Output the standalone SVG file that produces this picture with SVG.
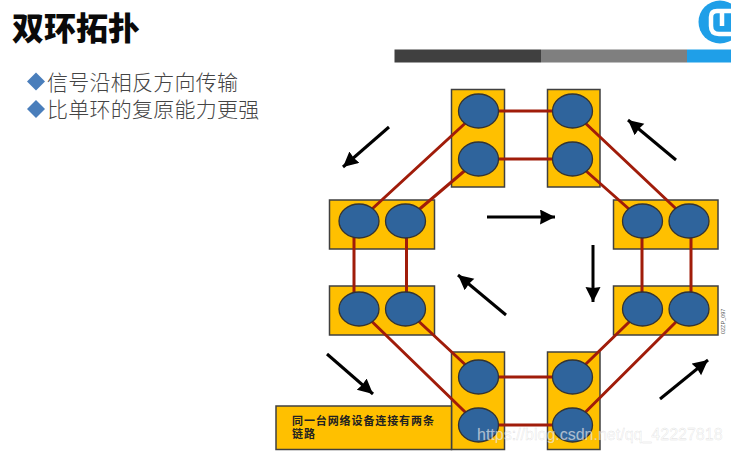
<svg xmlns="http://www.w3.org/2000/svg" width="731" height="454" viewBox="0 0 731 454">
<style>
.box{fill:#ffc000;stroke:#404040;stroke-width:1.5}
.c{fill:#2f649c;stroke:#333;stroke-width:1.3}
.l{stroke:#a01c0a;stroke-width:3;fill:none}
.a{stroke:#000;stroke-width:3;fill:none;marker-end:url(#ah)}
.cjk{font-family:"Noto Sans CJK SC","Liberation Sans",sans-serif}
.body{font-family:"Noto Sans CJK SC","Liberation Sans",sans-serif;font-size:21px;font-weight:300;fill:#444;letter-spacing:.25px}
.d{fill:#4a7ebb}
</style>
<defs>
<marker id="ah" markerUnits="userSpaceOnUse" markerWidth="18" markerHeight="16" refX="15" refY="7.500" orient="auto"><path d="M0 0L15 7.500L0 15L1 7.500Z" fill="#000"/></marker>
</defs>
<rect width="731" height="454" fill="#fff"/>
<text x="12" y="40" class="cjk" font-size="32" font-weight="900" fill="#0a0a0a">双环拓扑</text>
<g id="bullets">
<path class="d" d="M36 72.500L45 81.500L36 90.500L27 81.500Z"/>
<text x="47" y="89.500" class="body">信号沿相反方向传输</text>
<path class="d" d="M36 100L45 109L36 118L27 109Z"/>
<text x="47" y="117" class="body">比单环的复原能力更强</text>
</g>
<g id="header-bar">
<rect x="394.500" y="49.500" width="146.500" height="13" fill="#404040"/>
<rect x="541" y="49.500" width="146" height="13" fill="#7f7f7f"/>
<rect x="687" y="49.500" width="44" height="13" fill="#1f9fe8"/>
</g>
<g id="logo">
<circle cx="720" cy="22" r="21.500" fill="#1f9fe8"/>
<path d="M731 34H719Q711 34 711 26V17Q711 11 717 11H731M722 11V26" fill="none" stroke="#fff" stroke-width="4.500"/>
</g>
<g id="device-tl"><rect class="box" x="451.500" y="89.500" width="53" height="97.500"/></g>
<g id="device-tr"><rect class="box" x="547.500" y="89.500" width="52.500" height="97.500"/></g>
<g id="device-lt"><rect class="box" x="329.500" y="200" width="105" height="49"/></g>
<g id="device-lb"><rect class="box" x="329.500" y="286" width="105" height="49"/></g>
<g id="device-rt"><rect class="box" x="613.500" y="200" width="104.500" height="49"/></g>
<g id="device-rb"><rect class="box" x="613.500" y="286" width="104.500" height="49"/></g>
<g id="device-bl"><rect class="box" x="451.500" y="352" width="53" height="97.500"/></g>
<g id="device-br"><rect class="box" x="547.500" y="352" width="52.500" height="97.500"/></g>
<g id="note">
<rect class="box" x="276" y="406" width="175.500" height="43.500"/>
<text class="cjk" font-size="11" font-weight="700" fill="#222" letter-spacing=".9"><tspan x="292" y="425">同一台网络设备连接有两条</tspan><tspan x="292" y="437.500">链路</tspan></text>
</g>
<g id="connectors">
<path class="l" d="M478.500 111H572.500M478.500 159H572.500M478.500 377H572.500M478.500 425H572.500"/>
<path class="l" d="M354 221V309M406.500 221V309M642 221V309M691 221V309"/>
<path class="l" d="M478.500 111L359 221M478.500 159L405.500 221M572.500 111L689 221M572.500 159L642.500 221"/>
<path class="l" d="M478.500 377L405.500 309M478.500 425L359 309M572.500 377L642.500 309M572.500 425L689 309"/>
<path class="a" d="M389 127L343 167"/>
<path class="a" d="M676 160L628 120"/>
<path class="a" d="M487 217H555"/>
<path class="a" d="M593 245V302"/>
<path class="a" d="M506 315L458 275"/>
<path class="a" d="M327 354L373 394"/>
<path class="a" d="M660 399L708 360"/>
</g>
<g id="ports">
<ellipse class="c" cx="478.500" cy="111" rx="20" ry="17"/><ellipse class="c" cx="478.500" cy="159" rx="20" ry="17"/>
<ellipse class="c" cx="572.500" cy="111" rx="20" ry="17"/><ellipse class="c" cx="572.500" cy="159" rx="20" ry="17"/>
<ellipse class="c" cx="359" cy="221" rx="20" ry="17"/><ellipse class="c" cx="405.500" cy="221" rx="20" ry="17"/>
<ellipse class="c" cx="359" cy="309" rx="20" ry="17"/><ellipse class="c" cx="405.500" cy="309" rx="20" ry="17"/>
<ellipse class="c" cx="642.500" cy="221" rx="20" ry="17"/><ellipse class="c" cx="689" cy="221" rx="20" ry="17"/>
<ellipse class="c" cx="642.500" cy="309" rx="20" ry="17"/><ellipse class="c" cx="689" cy="309" rx="20" ry="17"/>
<ellipse class="c" cx="478.500" cy="377" rx="20" ry="17"/><ellipse class="c" cx="478.500" cy="425" rx="20" ry="17"/>
<ellipse class="c" cx="572.500" cy="377" rx="20" ry="17"/><ellipse class="c" cx="572.500" cy="425" rx="20" ry="17"/>
</g>
<text transform="translate(725 334) rotate(-90)" font-family="Liberation Sans,sans-serif" font-size="5.500" fill="#555">02ZP_097</text>
<text x="477" y="440" font-family="Liberation Sans,sans-serif" font-size="16" fill="#fff" fill-opacity=".62" stroke="#999" stroke-opacity=".35" stroke-width=".4">https://blog.csdn.net/qq_42227818</text>
</svg>
